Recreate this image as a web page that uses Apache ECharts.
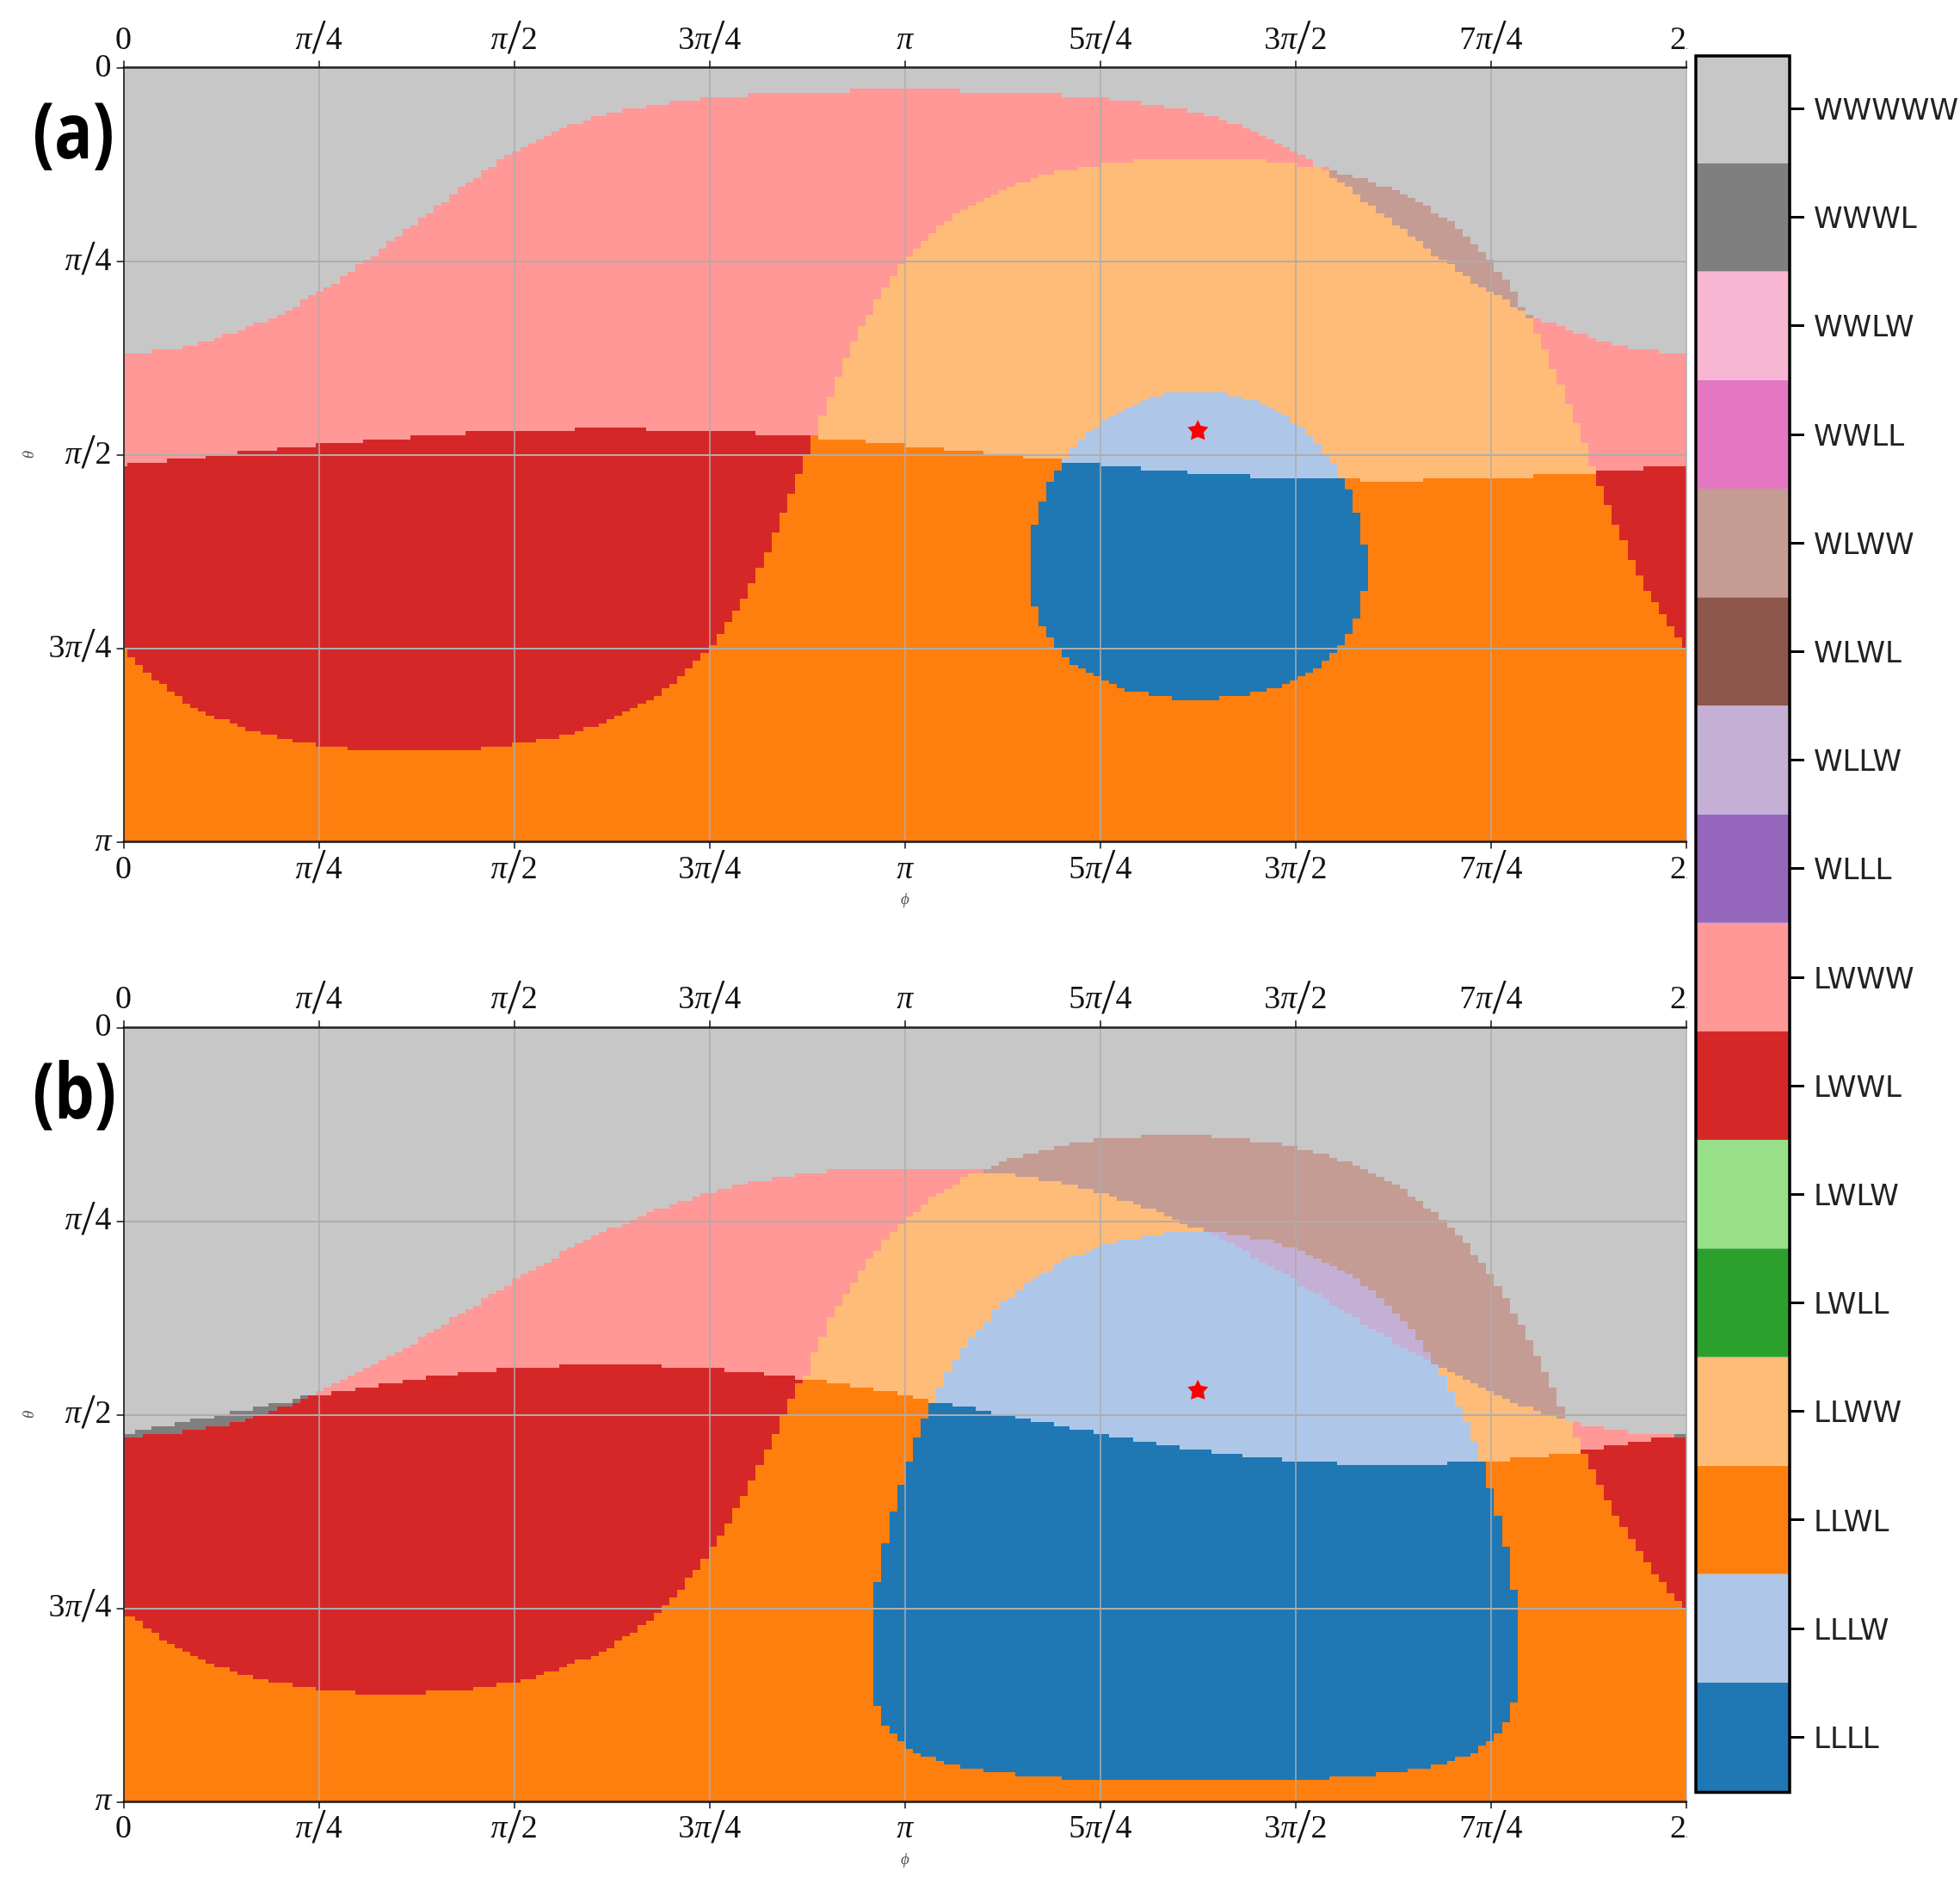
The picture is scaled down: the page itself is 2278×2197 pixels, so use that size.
<!DOCTYPE html>
<html lang="en">
<head>
    <meta charset="UTF-8">
    <style>
        html, body { margin: 0; padding: 0; background: #fff; }
        #main { width: 2278px; height: 2197px; }
    </style>
    <script src="https://cdn.jsdelivr.net/npm/echarts@6/dist/echarts.min.js"></script>
    <title>Phase map</title>
</head>
<body>
    <div id="main"></div>
    <script>
        // colour bar, bottom to top
        var stateLabels = ['LLLL', 'LLLW', 'LLWL', 'LLWW', 'LWLL', 'LWLW', 'LWWL', 'LWWW',
                           'WLLL', 'WLLW', 'WLWL', 'WLWW', 'WWLL', 'WWLW', 'WWWL', 'WWWWW'];
        var stateColors = ['#1f77b4', '#aec7e8', '#ff7f0e', '#ffbb78', '#2ca02c', '#98df8a', '#d62728', '#ff9896',
                           '#9467bd', '#c5b0d5', '#8c564b', '#c49c94', '#e377c2', '#f7b6d2', '#7f7f7f', '#c7c7c7'];
        var phiTickLabels = ['0', 'π/4', 'π/2', '3π/4', 'π', '5π/4', '3π/2', '7π/4', '2π'];
        var thetaTickLabels = ['0', 'π/4', 'π/2', '3π/4', 'π'];

        // the map is a 200 x 200 grid, axes run over cell centres 0..199
        var gridLast = 199;

        // region edges: [first column, first row below the edge]
        var aGray = [[0,74],[4,73],[8,72],[10,71],[12,70],[13,69],[15,68],[16,67],[17,66],[19,65],[20,64],[21,63],[22,62],[23,60],[24,59],[25,58],[26,57],[27,56],[28,54],[29,53],[30,51],[31,50],[32,49],[33,47],[34,45],[35,44],[36,42],[37,41],[38,39],[39,38],[40,36],[41,35],[42,33],[43,31],[44,30],[45,29],[46,27],[47,26],[48,24],[49,23],[50,22],[51,21],[52,20],[53,19],[54,18],[55,17],[56,16],[57,15],[59,14],[60,13],[62,12],[64,11],[67,10],[70,9],[74,8],[80,7],[93,6],[107,7],[120,8],[126,9],[130,10],[133,11],[136,12],[138,13],[140,14],[141,15],[143,16],[144,17],[145,18],[146,19],[147,20],[148,21],[149,22],[150,23],[151,24],[152,26],[154,27],[155,28],[157,29],[159,30],[160,31],[162,32],[163,33],[164,34],[165,35],[166,36],[167,38],[168,39],[169,40],[170,42],[171,44],[172,46],[173,48],[174,50],[175,53],[176,55],[177,58],[178,62],[179,64],[180,65],[181,66],[183,67],[184,68],[185,69],[187,70],[188,71],[190,72],[192,73],[196,74]];
        var aLight = [[89,90],[90,85],[91,80],[92,75],[93,71],[94,67],[95,64],[96,60],[97,57],[98,54],[99,51],[100,49],[101,47],[102,45],[103,43],[104,41],[105,40],[106,38],[107,37],[108,36],[109,35],[110,34],[111,33],[112,32],[113,31],[114,30],[116,29],[117,28],[119,27],[122,26],[125,25],[129,24],[146,25],[150,26],[153,27],[154,29],[155,30],[156,31],[157,33],[158,35],[159,36],[160,38],[161,39],[162,41],[163,42],[164,44],[165,45],[166,47],[167,49],[168,50],[169,51],[170,53],[171,54],[172,56],[173,57],[174,58],[175,59],[176,60],[177,62],[178,63],[179,65],[180,69],[181,73],[182,78],[183,82],[184,87],[185,92],[186,97],[187,103]];
        var aDome = [[120,101],[121,98],[122,96],[123,94],[124,93],[125,91],[126,90],[127,89],[128,88],[129,87],[130,86],[131,85],[133,84],[141,85],[143,86],[145,87],[146,88],[147,89],[148,90],[149,92],[150,93],[151,95],[152,97],[153,100],[154,102]];
        var aDark = [[0,103],[1,102],[6,101],[11,100],[15,99],[20,98],[25,97],[31,96],[37,95],[44,94],[58,93],[67,94],[81,95],[89,96],[95,97],[100,98],[105,99],[110,100],[115,101],[120,102],[125,103],[130,104],[136,105],[144,106],[158,107],[166,106],[180,105],[188,104],[194,103]];
        var aRedLeft = [[0,150],[1,152],[2,154],[3,156],[4,158],[5,159],[6,161],[7,162],[8,164],[9,165],[10,166],[11,167],[12,168],[14,169],[15,170],[16,171],[18,172],[20,173],[22,174],[25,175],[29,176],[46,175],[50,174],[53,173],[56,172],[58,171],[59,170],[61,169],[62,168],[63,167],[64,166],[65,165],[66,164],[67,163],[68,162],[69,160],[70,159],[71,157],[72,155],[73,153],[74,151],[75,149],[76,146],[77,143],[78,140],[79,137],[80,133],[81,129],[82,125],[83,120],[84,115],[85,110],[86,105],[87,100]];
        var aRedRight = [[188,108],[189,113],[190,118],[191,122],[192,127],[193,131],[194,135],[195,138],[196,141],[197,144],[198,147],[199,150]];
        var aBlueTop = [[116,118],[117,112],[118,107],[119,104],[120,102],[125,103],[130,104],[136,105],[144,106],[156,109],[157,115],[158,123]];
        var aBlueBottom = [[116,139],[117,144],[118,147],[119,150],[120,152],[121,154],[122,155],[123,156],[124,157],[125,158],[126,159],[127,160],[128,161],[131,162],[134,163],[140,162],[144,161],[146,160],[148,159],[149,158],[150,157],[151,156],[152,155],[153,153],[154,151],[155,149],[156,146],[157,142],[158,135]];
        var aStar = [136.8, 93.1];

        var bGray = [[0,105],[2,104],[4,103],[7,102],[9,101],[12,100],[14,99],[17,98],[19,97],[22,96],[23,95],[25,94],[26,93],[27,92],[28,91],[29,90],[30,89],[31,88],[32,87],[33,86],[34,85],[35,84],[36,83],[37,82],[38,80],[39,79],[40,78],[41,77],[42,75],[43,74],[44,73],[45,72],[46,70],[47,69],[48,68],[49,67],[50,65],[51,64],[52,63],[53,62],[54,61],[55,60],[56,58],[57,57],[58,56],[59,55],[60,54],[61,53],[62,52],[64,51],[65,50],[66,49],[67,48],[68,47],[70,46],[71,45],[73,44],[74,43],[76,42],[78,41],[80,40],[83,39],[86,38],[90,37],[111,36],[112,35],[113,34],[115,33],[117,32],[119,31],[121,30],[124,29],[130,28],[139,29],[144,30],[148,31],[150,32],[152,33],[154,34],[155,35],[157,36],[158,37],[159,38],[160,39],[161,40],[162,41],[163,42],[164,44],[165,45],[166,47],[167,48],[168,50],[169,52],[170,54],[171,56],[172,59],[173,61],[174,64],[175,67],[176,70],[177,74],[178,77],[179,81],[180,85],[181,89],[182,93],[183,98],[184,102],[186,103],[189,104],[192,105]];
        var bLight = [[87,90],[88,84],[89,80],[90,75],[91,72],[92,69],[93,66],[94,63],[95,60],[96,58],[97,55],[98,53],[99,51],[100,49],[101,48],[102,46],[103,44],[104,43],[105,42],[106,41],[107,39],[108,38],[114,39],[117,40],[120,41],[122,42],[124,43],[126,44],[127,45],[129,46],[130,47],[132,48],[133,49],[134,50],[135,51],[136,52],[138,53],[141,54],[144,55],[147,56],[148,57],[150,58],[151,59],[152,60],[153,61],[154,62],[155,63],[156,64],[157,65],[158,67],[159,68],[160,70],[161,72],[162,74],[163,76],[164,78],[165,81],[166,84],[167,87],[168,88],[169,89],[170,90],[171,91],[172,92],[173,93],[174,94],[175,95],[176,96],[177,97],[178,98],[180,99],[181,100],[183,101],[184,102],[185,106]];
        var bDome = [[104,93],[105,89],[106,86],[107,83],[108,80],[109,78],[110,76],[111,73],[112,71],[113,70],[114,68],[115,66],[116,65],[117,64],[118,63],[119,61],[120,60],[121,59],[123,58],[124,57],[125,56],[127,55],[130,54],[133,53],[139,54],[140,55],[141,56],[142,57],[143,58],[144,60],[145,61],[146,62],[147,63],[148,64],[149,65],[150,67],[151,68],[152,69],[153,70],[154,72],[155,73],[156,74],[157,75],[158,77],[159,78],[160,79],[161,80],[162,82],[163,83],[164,84],[165,85],[166,86],[167,87],[168,90],[169,94],[170,98],[171,102],[172,107]];
        var bDark = [[0,106],[3,105],[8,104],[11,103],[14,102],[16,101],[17,100],[19,99],[20,98],[22,97],[23,96],[24,95],[27,94],[30,93],[33,92],[36,91],[39,90],[43,89],[48,88],[56,87],[69,88],[77,89],[82,90],[86,91],[90,92],[93,93],[96,94],[99,95],[101,96],[103,97],[106,98],[109,99],[111,100],[114,101],[116,102],[119,103],[121,104],[124,105],[126,106],[129,107],[132,108],[135,109],[139,110],[143,111],[148,112],[155,113],[169,112],[177,111],[182,110],[186,109],[189,108],[192,107],[195,106]];
        var bRedLeft = [[0,152],[2,153],[3,155],[4,156],[5,158],[6,159],[7,160],[8,161],[9,162],[10,163],[11,164],[12,165],[14,166],[15,167],[17,168],[19,169],[22,170],[25,171],[30,172],[39,171],[45,170],[48,169],[51,168],[53,167],[54,166],[56,165],[57,164],[58,163],[60,162],[61,161],[62,160],[63,158],[64,157],[65,156],[66,154],[67,153],[68,151],[69,149],[70,147],[71,145],[72,142],[73,140],[74,137],[75,134],[76,131],[77,128],[78,124],[79,121],[80,117],[81,113],[82,109],[83,105],[84,100],[85,96],[86,92]];
        var bRedRight = [[186,110],[187,114],[188,118],[189,122],[190,126],[191,129],[192,132],[193,135],[194,138],[195,141],[196,143],[197,146],[198,148],[199,150]];
        var bBlueTop = [[96,143],[97,133],[98,125],[99,118],[100,112],[101,106],[102,101],[103,97],[106,98],[109,99],[111,100],[114,101],[116,102],[119,103],[121,104],[124,105],[126,106],[129,107],[132,108],[135,109],[139,110],[143,111],[148,112],[155,113],[169,112],[174,119],[175,126],[176,134],[177,145]];
        var bBlueBottom = [[96,175],[97,180],[98,182],[99,184],[100,186],[101,187],[102,188],[104,189],[105,190],[107,191],[110,192],[114,193],[120,194],[154,193],[160,192],[164,191],[167,190],[169,189],[170,188],[172,187],[173,185],[174,184],[175,182],[176,179],[177,174]];
        var bStar = [136.8, 93.1];

        var mapTop = [[0,0]];
        var mapBottom = [[0,200]];

        // painted in this order, later regions cover earlier ones
        var aRegions = [
            ['WWWWW', 0, 199, mapTop, aGray],
            ['LWWW', 0, 199, aGray, aDark],
            ['WLWW', 154, 179, aGray, aLight],
            ['LLWW', 89, 187, aLight, aDark],
            ['LLLW', 120, 154, aDome, aDark],
            ['LLWL', 0, 199, aDark, mapBottom],
            ['LWWL', 0, 87, aDark, aRedLeft],
            ['LWWL', 188, 199, aDark, aRedRight],
            ['LLLL', 116, 158, aBlueTop, aBlueBottom]
        ];
        var bRegions = [
            ['WWWWW', 0, 199, mapTop, bGray],
            ['LWWW', 0, 199, bGray, bDark],
            ['WWWL', 0, 23, bGray, bDark],
            ['WWWL', 198, 199, bGray, bDark],
            ['WLWW', 110, 183, bGray, bLight],
            ['LLWW', 87, 185, bLight, bDark],
            ['WLLW', 139, 167, bLight, bDark],
            ['LLLW', 104, 172, bDome, bDark],
            ['LLWL', 0, 199, bDark, mapBottom],
            ['LWWL', 0, 86, bDark, bRedLeft],
            ['LWWL', 186, 199, bDark, bRedRight],
            ['LLLL', 96, 177, bBlueTop, bBlueBottom]
        ];

        function edgeAt(steps, k) {
            var v = steps[0][1];
            for (var i = 0; i < steps.length && steps[i][0] <= k; i++) {
                v = steps[i][1];
            }
            return v;
        }

        function regionCells(regions) {
            var cells = [];
            regions.forEach(function (r) {
                for (var k = r[1]; k <= r[2]; k++) {
                    var top = edgeAt(r[3], k), bottom = edgeAt(r[4], k);
                    if (bottom > top) {
                        cells.push([k, top, bottom, stateLabels.indexOf(r[0])]);
                    }
                }
            });
            return cells;
        }

        function renderCell(params, api) {
            var k = api.value(0);
            var p0 = api.coord([Math.max(k - 0.5, 0), Math.max(api.value(1) - 0.5, 0)]);
            var p1 = api.coord([Math.min(k + 0.5, gridLast), Math.min(api.value(2) - 0.5, gridLast)]);
            var x0 = Math.round(p0[0]), x1 = Math.round(p1[0]);
            var y0 = Math.round(p0[1]), y1 = Math.round(p1[1]);
            return {
                type: 'rect',
                shape: { x: x0, y: y0, width: x1 - x0, height: y1 - y0 },
                style: { fill: stateColors[api.value(3)] }
            };
        }

        var tickFont = 'Liberation Serif';
        var tickLine = 40;
        var tickRich = {
            i: { fontStyle: 'italic', fontFamily: tickFont, fontSize: 38, lineHeight: tickLine, color: '#111' },
            s: { fontFamily: tickFont, fontSize: 58, lineHeight: tickLine, color: '#111' },
            d: { fontFamily: tickFont, fontSize: 38, lineHeight: tickLine, color: '#111' }
        };
        function tickText(list, step) {
            return function (v) {
                return list[Math.round(v / step)].replace('π', '{i|π}').replace('/', '{s|/}').replace(/\d/g, '{d|$&}');
            };
        }
        var phiStep = gridLast / 8, thetaStep = gridLast / 4;

        function phiAxis(gridIndex, position) {
            var bottom = position === 'bottom';
            return {
                type: 'value', gridIndex: gridIndex, position: position, min: 0, max: gridLast, interval: phiStep,
                z: 3,
                name: bottom ? 'ϕ' : '', nameLocation: 'middle', nameGap: 58, nameMoveOverlap: false,
                nameTextStyle: { fontFamily: tickFont, fontStyle: 'italic', fontSize: 19, color: '#555' },
                axisLine: { show: true, onZero: false, lineStyle: { color: '#222', width: 2.5 } },
                axisTick: { show: true, length: 8, lineStyle: { color: '#111', width: 1.5 } },
                axisLabel: {
                    show: true, margin: 12, fontFamily: tickFont, fontSize: 38, color: '#111', hideOverlap: false,
                    showMinLabel: true, showMaxLabel: true,
                    formatter: tickText(phiTickLabels, phiStep), rich: tickRich
                },
                splitLine: { show: bottom, lineStyle: { color: '#adadad', width: 1.5 } }
            };
        }

        function thetaAxis(gridIndex) {
            return {
                type: 'value', gridIndex: gridIndex, inverse: true, min: 0, max: gridLast, interval: thetaStep,
                z: 3,
                name: 'θ', nameLocation: 'middle', nameGap: 100, nameRotate: 90,
                nameTextStyle: { fontFamily: tickFont, fontStyle: 'italic', fontSize: 19, color: '#555' },
                axisLine: { show: true, onZero: false, lineStyle: { color: '#111', width: 1.5 } },
                axisTick: { show: true, length: 8, lineStyle: { color: '#111', width: 1.5 } },
                axisLabel: {
                    show: true, margin: 14, fontFamily: tickFont, fontSize: 38, color: '#111', hideOverlap: false,
                    showMinLabel: true, showMaxLabel: true,
                    formatter: tickText(thetaTickLabels, thetaStep), rich: tickRich
                },
                splitLine: { show: true, lineStyle: { color: '#adadad', width: 2 } }
            };
        }

        function mapSeries(name, axisIndex, regions) {
            return {
                name: name, type: 'custom', xAxisIndex: axisIndex, yAxisIndex: axisIndex / 2, z: 1,
                coordinateSystem: 'cartesian2d', silent: true, animation: false,
                encode: { x: 0, y: 1 },
                renderItem: renderCell,
                data: regionCells(regions)
            };
        }

        function starSeries(name, axisIndex, point) {
            return {
                name: name, type: 'scatter', xAxisIndex: axisIndex, yAxisIndex: axisIndex / 2, z: 6,
                symbol: 'path://M50 0 L64 30 L100 36 L78 62 L84 100 L50 86 L16 100 L22 62 L0 36 L36 30 Z',
                symbolSize: [24, 23], itemStyle: { color: '#ff0000', opacity: 1 }, silent: true,
                data: [point]
            };
        }

        // the figure is cut at the right end of the maps, so the 2π labels lose their tail
        function labelCut(y, h) {
            return { type: 'rect', z: 50, silent: true, shape: { x: 1961, y: y, width: 60, height: h }, style: { fill: '#fff' } };
        }

        // bold panel letters are taller than any installed face, so stretch them
        function panelLetter(text, y) {
            return {
                type: 'text', z: 55, silent: true, x: 38, y: y, scaleY: 1.2,
                style: { text: text, fill: '#000', font: 'bold 74px "Open Sans"', textVerticalAlign: 'middle' }
            };
        }

        var myChart = echarts.init(document.getElementById('main'));
        var option = {
            animation: false,
            backgroundColor: '#fff',
            grid: [
                { left: 143.6, top: 78.6, width: 1816.4, height: 900 },
                { left: 143.6, top: 1194.3, width: 1816.4, height: 900 },
                { left: 1971, top: 63.2, width: 109, height: 2019, outerBoundsMode: 'none' }
            ],
            xAxis: [
                phiAxis(0, 'bottom'), phiAxis(0, 'top'),
                phiAxis(1, 'bottom'), phiAxis(1, 'top'),
                { type: 'value', gridIndex: 2, min: 0, max: 1, show: false }
            ],
            yAxis: [
                thetaAxis(0), thetaAxis(1),
                {
                    type: 'category', gridIndex: 2, position: 'right', data: stateLabels, z: 60,
                    axisLine: { show: false, onZero: false },
                    axisTick: { show: true, alignWithLabel: true, length: 17, lineStyle: { color: '#000', width: 3 } },
                    axisLabel: {
                        margin: 28,
                        formatter: '{t|{value}}',
                        rich: { t: { fontFamily: 'DejaVu Sans', fontSize: 34, color: '#222', padding: [8, 0, 0, 0] } }
                    }
                }
            ],
            graphic: [
                labelCut(10, 50), labelCut(985, 60), labelCut(1125, 62), labelCut(2100, 60),
                panelLetter('(a)', 159), panelLetter('(b)', 1275),
                {
                    type: 'rect', z: 70, silent: true,
                    shape: { x: 1971, y: 65, width: 109, height: 2018.5 },
                    style: { fill: 'none', stroke: '#000', lineWidth: 3.5 }
                }
            ],
            series: [
                mapSeries('panel a', 0, aRegions),
                mapSeries('panel b', 2, bRegions),
                starSeries('star a', 0, aStar),
                starSeries('star b', 2, bStar),
                {
                    name: 'colour bar', type: 'bar', xAxisIndex: 4, yAxisIndex: 2, z: 60,
                    barWidth: '100%', silent: true,
                    data: stateColors.map(function (c) { return { value: 1, itemStyle: { color: c } }; })
                }
            ]
        };
        myChart.setOption(option);
    </script>
</body>
</html>
